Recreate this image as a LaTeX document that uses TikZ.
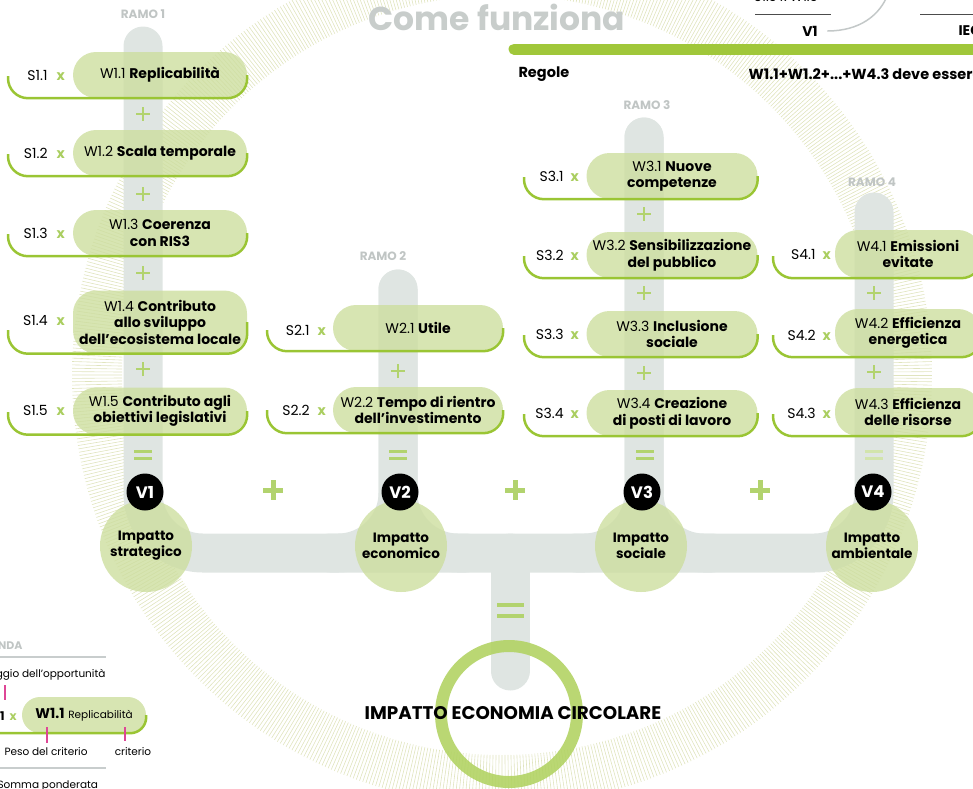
\documentclass[tikz,border=0pt]{standalone}
\usepackage{fontspec}
\setmainfont{Poppins}
\usetikzlibrary{shapes}
\definecolor{bargrey}{RGB}{223,229,226}
\definecolor{pillgreen}{RGB}{205,222,159}
\definecolor{brkgreen}{RGB}{154,197,52}
\definecolor{xgreen}{RGB}{170,206,96}
\definecolor{plusgreen}{RGB}{178,211,110}
\definecolor{fadegreen}{RGB}{210,228,172}
\definecolor{topgreen}{RGB}{160,199,58}
\definecolor{ringgreen}{RGB}{178,211,100}
\definecolor{hatchcol}{RGB}{224,228,190}
\definecolor{titlegrey}{RGB}{200,205,203}
\definecolor{ramogrey}{RGB}{192,197,196}
\definecolor{linegrey}{RGB}{200,205,205}
\definecolor{curvegrey}{RGB}{195,200,200}
\definecolor{tickpink}{RGB}{222,70,150}
\tikzstyle{bar}=[line width=39pt,bargrey,rounded corners=60pt,line cap=round]
\tikzstyle{pill}=[fill=pillgreen,fill opacity=0.8,text opacity=1,rounded corners=23pt,minimum height=46pt,inner sep=1pt,align=center,font=\fontsize{14}{16.5}\selectfont]
\tikzstyle{slab}=[anchor=east,inner sep=0pt,font=\fontsize{14}{16}\selectfont]
\tikzstyle{brk}=[line width=2.5pt,brkgreen,rounded corners=20pt]
\tikzstyle{thinplus}=[line width=2.2pt,plusgreen]
\tikzstyle{eqs}=[line width=3pt,plusgreen]
\tikzstyle{bigplus}=[line width=5pt,plusgreen]
\tikzstyle{imp}=[circle,fill=pillgreen,fill opacity=0.8,text opacity=1,minimum size=92pt,inner sep=0pt,align=center,font=\bfseries\fontsize{13.5}{16}\selectfont]
\tikzstyle{vnd}=[circle,fill=black,text=white,minimum size=37pt,inner sep=0pt,font=\bfseries\fontsize{16.5}{16}\selectfont]
\tikzstyle{ramo}=[text=ramogrey,font=\bfseries\fontsize{12}{12}\selectfont]
\tikzstyle{hatch}=[line width=0.6pt,hatchcol]
\tikzstyle{legtxt}=[font=\fontsize{10.5}{12}\selectfont]
\tikzstyle{tick}=[tickpink,line width=1.3pt]
\begin{document}
\begin{tikzpicture}[x=1pt,y=-1pt]
\useasboundingbox (0,0) rectangle (973,788);
\begin{scope}[shift={(502,375)}]
\foreach \a in {0,0.45,...,359.6} \draw[hatch] (\a:380pt) -- (\a:430pt);
\end{scope}
\draw[bar] (143,46) -- (143,553) -- (874,553) -- (874,212);
\draw[bar] (398,289) -- (398,553) -- (330,553);
\draw[bar] (398,289) -- (398,553) -- (466,553);
\draw[bar] (644,137) -- (644,553) -- (576,553);
\draw[bar] (644,137) -- (644,553) -- (712,553);
\draw[bar] (510,553) -- (510,671);
\node[ramo] (r1) at (143,14) {RAMO 1};
\node[ramo] (r2) at (383,256) {RAMO 2};
\node[ramo] (r3) at (647,105) {RAMO 3};
\node[ramo] (r4) at (872,182) {RAMO 4};
\node[font=\bfseries\fontsize{33}{33}\selectfont,text=titlegrey] (title) at (497,17) {Come funziona};
\node[pill,minimum width=174pt] (w11) at (160,75) {W1.1 \textbf{Replicabilità}};
\node[pill,minimum width=174pt] (w12) at (160,153) {W1.2 \textbf{Scala temporale}};
\node[pill,minimum width=174pt] (w13) at (160,233) {W1.3 \textbf{Coerenza}\\\textbf{con RIS3}};
\node[pill,minimum width=174pt,minimum height=63pt] (w14) at (160,322) {W1.4 \textbf{Contributo}\\\textbf{allo sviluppo}\\\textbf{dell'ecosistema locale}};
\node[pill,minimum width=174pt,minimum height=47pt] (w15) at (160,411) {W1.5 \textbf{Contributo agli}\\\textbf{obiettivi legislativi}};
\node[pill,minimum width=170pt] (w21) at (418,328) {W2.1 \textbf{Utile}};
\node[pill,minimum width=170pt] (w22) at (418,410) {W2.2 \textbf{Tempo di rientro}\\\textbf{dell'investimento}};
\node[pill,minimum width=171pt] (w31) at (672,176) {W3.1 \textbf{Nuove}\\\textbf{competenze}};
\node[pill,minimum width=171pt] (w32) at (672,255) {W3.2 \textbf{Sensibilizzazione}\\\textbf{del pubblico}};
\node[pill,minimum width=171pt] (w33) at (672,334) {W3.3 \textbf{Inclusione}\\\textbf{sociale}};
\node[pill,minimum width=171pt] (w34) at (672,413) {W3.4 \textbf{Creazione}\\\textbf{di posti di lavoro}};
\node[pill,minimum width=146pt,minimum height=48pt] (w41) at (908,254) {W4.1 \textbf{Emissioni}\\\textbf{evitate}};
\node[pill,minimum width=146pt,minimum height=48pt] (w42) at (908,333) {W4.2 \textbf{Efficienza}\\\textbf{energetica}};
\node[pill,minimum width=146pt,minimum height=48pt] (w43) at (908,412) {W4.3 \textbf{Efficienza}\\\textbf{delle risorse}};
\node[slab] (s11) at (65,75) {S1.1\hspace{9pt}\textcolor{xgreen}{\textbf{x}}};
\node[slab] (s12) at (65,153) {S1.2\hspace{9pt}\textcolor{xgreen}{\textbf{x}}};
\node[slab] (s13) at (65,233) {S1.3\hspace{9pt}\textcolor{xgreen}{\textbf{x}}};
\node[slab] (s14) at (65,320) {S1.4\hspace{9pt}\textcolor{xgreen}{\textbf{x}}};
\node[slab] (s15) at (65,410) {S1.5\hspace{9pt}\textcolor{xgreen}{\textbf{x}}};
\node[slab] (s21) at (326,330) {S2.1\hspace{8pt}\textcolor{xgreen}{\textbf{x}}};
\node[slab] (s22) at (326,410) {S2.2\hspace{8pt}\textcolor{xgreen}{\textbf{x}}};
\node[slab] (s31) at (579,176) {S3.1\enspace\textcolor{xgreen}{\textbf{x}}};
\node[slab] (s32) at (579,255) {S3.2\enspace\textcolor{xgreen}{\textbf{x}}};
\node[slab] (s33) at (579,334) {S3.3\enspace\textcolor{xgreen}{\textbf{x}}};
\node[slab] (s34) at (579,413) {S3.4\enspace\textcolor{xgreen}{\textbf{x}}};
\node[slab] (s41) at (831,254) {S4.1\enspace\textcolor{xgreen}{\textbf{x}}};
\node[slab] (s42) at (831,335) {S4.2\enspace\textcolor{xgreen}{\textbf{x}}};
\node[slab] (s43) at (831,413) {S4.3\enspace\textcolor{xgreen}{\textbf{x}}};
\draw[brk] (8,76) |- (w11.south east) -- (w11.east);
\draw[brk] (8,154) |- (w12.south east) -- (w12.east);
\draw[brk] (8,234) |- (w13.south east) -- (w13.east);
\draw[brk] (8,330) |- (w14.south east) -- (w14.east);
\draw[brk] (8,412) |- (w15.south east) -- (w15.east);
\draw[brk] (267,330) |- (w21.south east) -- (w21.east);
\draw[brk] (267,410) |- (w22.south east) -- (w22.east);
\draw[brk] (524,177) |- (w31.south east) -- (w31.east);
\draw[brk] (524,256) |- (w32.south east) -- (w32.east);
\draw[brk] (524,335) |- (w33.south east) -- (w33.east);
\draw[brk] (524,414) |- (w34.south east) -- (w34.east);
\draw[brk] (773,256) |- (w41.south east) -- (w41.east);
\draw[brk] (773,335) |- (w42.south east) -- (w42.east);
\draw[brk] (773,414) |- (w43.south east) -- (w43.east);
\draw[thinplus] (136,114) -- (150,114) (143,107) -- (143,121);
\draw[thinplus] (136,194) -- (150,194) (143,187) -- (143,201);
\draw[thinplus] (136,273) -- (150,273) (143,266) -- (143,280);
\draw[thinplus] (136,369) -- (150,369) (143,362) -- (143,376);
\draw[thinplus] (391,371) -- (405,371) (398,364) -- (398,378);
\draw[thinplus] (637,214) -- (651,214) (644,207) -- (644,221);
\draw[thinplus] (637,293) -- (651,293) (644,286) -- (644,300);
\draw[thinplus] (637,373) -- (651,373) (644,366) -- (644,380);
\draw[thinplus] (867,293) -- (881,293) (874,286) -- (874,300);
\draw[thinplus] (867,372) -- (881,372) (874,365) -- (874,379);
\draw[eqs] (134,451) -- (152,451) (134,458.5) -- (152,458.5);
\draw[eqs] (389,451) -- (407,451) (389,458.5) -- (407,458.5);
\draw[eqs] (636,451) -- (654,451) (636,458.5) -- (654,458.5);
\draw[eqs,fadegreen] (865,451) -- (883,451) (865,458.5) -- (883,458.5);
\draw[eqs,line width=4pt] (497,605) -- (524,605) (497,616) -- (524,616);
\draw[bigplus] (263,490) -- (283,490) (273,480) -- (273,500);
\draw[bigplus] (505,490) -- (525,490) (515,480) -- (515,500);
\draw[bigplus] (750,490) -- (770,490) (760,480) -- (760,500);
\node[imp] (i1) at (146,546) {Impatto\\strategico};
\node[imp] (i2) at (401,546) {Impatto\\economico};
\node[imp] (i3) at (641,546) {Impatto\\sociale};
\node[imp] (i4) at (872,546) {Impatto\\ambientale};
\node[vnd] (v1) at (145,492) {V1};
\node[vnd] (v2) at (400,492) {V2};
\node[vnd] (v3) at (642,492) {V3};
\node[vnd] (v4) at (873,492) {V4};
\node[circle,draw=ringgreen,draw opacity=0.9,line width=12pt,minimum size=136pt] (ring) at (509,714) {};
\node[font=\bfseries\fontsize{18.3}{18}\selectfont] (iec) at (513,713) {IMPATTO ECONOMIA CIRCOLARE};
\node[font=\fontsize{13}{15}\selectfont] (frac1) at (786,-3) {S1.5 x W1.5};
\draw[line width=0.8pt,black!70] (755,14) -- (831,14);
\node[font=\bfseries\fontsize{14}{15}\selectfont] (v1top) at (810,31) {V1};
\coordinate (cend) at (888,-6);
\draw[line width=1.5pt,curvegrey,shorten <=6pt] (v1top.east) .. controls (860,31) and (880,15) .. (cend);
\draw[line width=0.8pt,black!70] (920,14) -- (990,14);
\node[font=\bfseries\fontsize{14}{15}\selectfont,anchor=west] (iectop) at (955,31) {IEC};
\draw[line width=11pt,topgreen,line cap=round] (514,49) -- (1000,49);
\node[font=\bfseries\fontsize{14.5}{15}\selectfont,anchor=west] (regole) at (515,74) {Regole};
\node[font=\bfseries\fontsize{14.5}{15}\selectfont,anchor=west] (regola) at (745,74) {W1.1+W1.2+...+W4.3 deve essere};
\node[ramo,anchor=east,font=\bfseries\fontsize{11}{12}\selectfont] (leg) at (26,646) {LEGENDA};
\draw[linegrey,line width=1.3pt] (-5,657) -- (106,657);
\node[legtxt,anchor=east] (punt) at (109,675) {Punteggio dell'opportunità};
\draw[tick] (5,685) -- (5,700);
\node[pill,minimum width=124pt,minimum height=36pt,rounded corners=18pt] (wleg) at (84,715) {\textbf{\fontsize{14}{15}\selectfont W1.1} {\fontsize{10.5}{12}\selectfont Replicabilità}};
\node[slab,font=\fontsize{12}{14}\selectfont] (sleg) at (17,716) {\textbf{S1.1}\hspace{5pt}\textcolor{xgreen}{\textbf{x}}};
\draw[brk,rounded corners=16pt] (-20,700) |- (wleg.south east) -- (wleg.east);
\draw[tick] (47,727) -- (47,743);
\draw[tick] (125,727) -- (125,741);
\node[legtxt,anchor=west] (peso) at (1,752) {Peso del criterio};
\node[legtxt] (crit) at (133,752) {criterio};
\draw[linegrey,line width=1.3pt] (-5,768) -- (106,768);
\node[legtxt,anchor=west] (pond) at (-6,786) {Somma ponderata};
\end{tikzpicture}
\end{document}
